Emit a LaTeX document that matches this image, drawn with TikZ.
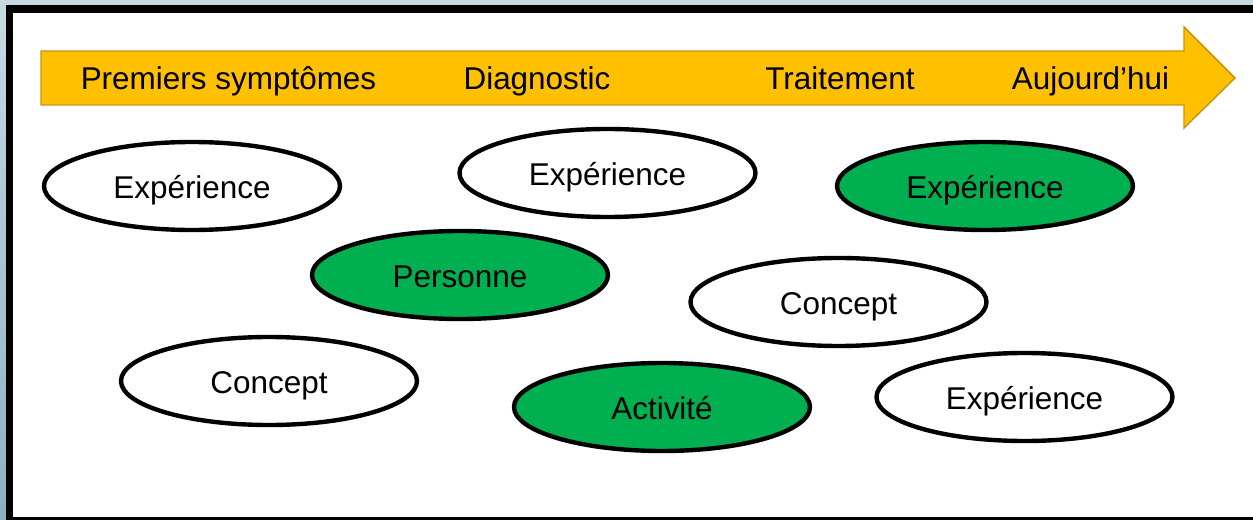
\documentclass[tikz,border=0pt]{standalone}
\usepackage{fontspec}
\setmainfont{Liberation Sans}
\usetikzlibrary{shapes.geometric}
\pgfdeclarelayer{background}
\pgfdeclarelayer{foreground}
\pgfsetlayers{background,main,foreground}

\definecolor{vertbulle}{HTML}{00B050}
\definecolor{jaunefleche}{HTML}{FFC000}
\definecolor{bordfleche}{HTML}{C8960C}
\definecolor{fondhaut}{HTML}{C9D9E1}
\definecolor{fondbas}{HTML}{8DB1C2}

\tikzset{
  bulle/.style={ellipse, draw=black, line width=3.3pt, fill=white,
    minimum width=222pt, minimum height=66pt, inner sep=0pt,
    font=\fontsize{23.6}{28}\selectfont, text height=23pt, text depth=4pt},
  bullevert/.style={bulle, fill=vertbulle},
  etape/.style={inner sep=0pt, font=\fontsize{23.6}{28}\selectfont,
    text height=23pt, text depth=5pt}
}

\begin{document}
\begin{tikzpicture}[x=0.75pt, y=-0.75pt]

\useasboundingbox (0,0) rectangle (1253,520);

\begin{pgfonlayer}{background}
\clip (0,0) rectangle (1253,520);
\fill[top color=fondhaut, bottom color=fondbas] (0,0) rectangle (1253,520);
\draw[line width=5.6pt, fill=white] (9.5,9) rectangle (1275,520.75);
\end{pgfonlayer}

% fleche du temps
\draw[fill=jaunefleche, draw=bordfleche, line width=1.1pt]
  (41,51) -- (1184,51) -- (1184,27) -- (1235,78) -- (1184,128) -- (1184,105) -- (41,105) -- cycle;

\node[etape] (symptomes) at (228.5,78) {Premiers symptômes};
\node[etape] (diagnostic) at (537,78) {Diagnostic};
\node[etape] (traitement) at (840,78) {Traitement};
\node[etape] (aujourdhui) at (1090.5,78) {Aujourd’hui};

% bulles
\node[bulle] (exp1) at (192,186) {Expérience};
\node[bulle] (exp2) at (607.5,173) {Expérience};
\node[bullevert] (exp3) at (985,186) {Expérience};
\node[bullevert] (personne) at (460,275) {Personne};
\node[bulle] (concept2) at (838.5,302) {Concept};
\node[bulle] (concept1) at (269,381) {Concept};
\node[bullevert] (activite) at (662,407) {Activité};
\node[bulle] (exp4) at (1024.5,397) {Expérience};

\end{tikzpicture}
\end{document}
